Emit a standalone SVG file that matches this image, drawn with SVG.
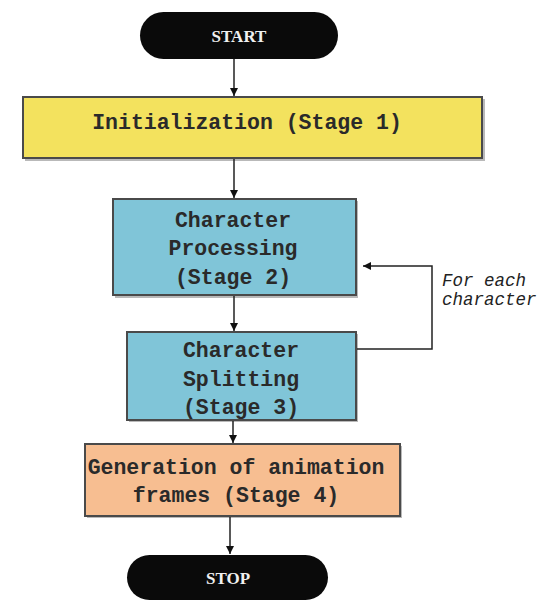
<svg xmlns="http://www.w3.org/2000/svg" width="538" height="603" viewBox="0 0 538 603">
<defs>
<style>
.box{stroke:#4a4a4a;stroke-width:2}
.shadow{fill:#8a8a8a;opacity:0.6}
.bt{font-family:"Liberation Mono","Courier New",monospace;font-weight:bold;font-size:21.5px;fill:#2a2a2a;text-anchor:middle}
.term{fill:#0a0a0a}
.tt{font-family:"Liberation Serif","Times New Roman",serif;font-weight:bold;font-size:17px;fill:#f0f0f0;text-anchor:middle}
.lbl{font-family:"Liberation Mono","Courier New",monospace;font-style:italic;font-size:17.5px;fill:#222}
.con{stroke:#222;stroke-width:1.5;fill:none;marker-end:url(#ah)}
</style>
<marker id="ah" viewBox="0 0 10 10" refX="10" refY="5" markerWidth="8" markerHeight="8" markerUnits="userSpaceOnUse" orient="auto">
<path d="M0,0 L10,5 L0,10 z" fill="#111"/>
</marker>
</defs>
<rect width="538" height="603" fill="#ffffff"/>
<g id="start">
<rect class="term" x="140" y="12" width="198" height="47" rx="23.5"/>
<text class="tt" x="239" y="42">START</text>
</g>
<g id="stage1">
<rect class="shadow" x="25" y="99" width="460" height="62"/>
<rect class="box" x="23" y="97" width="459" height="61" fill="#F3E25E"/>
<text class="bt" x="247" y="129">Initialization (Stage 1)</text>
</g>
<g id="stage2">
<rect class="shadow" x="115" y="201" width="243" height="97"/>
<rect class="box" x="113" y="199" width="243" height="96" fill="#80C5D8"/>
<text class="bt" x="233" y="227">Character</text>
<text class="bt" x="233" y="255">Processing</text>
<text class="bt" x="233" y="284">(Stage 2)</text>
</g>
<g id="stage3">
<rect class="shadow" x="129" y="334" width="229" height="88"/>
<rect class="box" x="127" y="332" width="229" height="88" fill="#80C5D8"/>
<text class="bt" x="241" y="357">Character</text>
<text class="bt" x="241" y="386">Splitting</text>
<text class="bt" x="241" y="414">(Stage 3)</text>
</g>
<g id="stage4">
<rect class="shadow" x="87" y="446" width="315" height="72"/>
<rect class="box" x="85" y="444" width="315" height="72" fill="#F7BE91"/>
<text class="bt" x="236" y="474">Generation of animation</text>
<text class="bt" x="236" y="502">frames (Stage 4)</text>
</g>
<g id="stop">
<rect class="term" x="127" y="555" width="201" height="45" rx="22.5"/>
<text class="tt" x="228" y="584">STOP</text>
</g>
<g id="loop-label">
<text class="lbl" x="442" y="286">For each</text>
<text class="lbl" x="442" y="305">character</text>
</g>
<g id="connectors">
<line class="con" x1="234" y1="59" x2="234" y2="96"/>
<line class="con" x1="234" y1="159" x2="234" y2="198"/>
<line class="con" x1="234" y1="296" x2="234" y2="331"/>
<line class="con" x1="233" y1="421" x2="233" y2="443"/>
<line class="con" x1="230" y1="517" x2="230" y2="554"/>
<polyline class="con" points="357,349 432,349 432,266 363,266"/>
</g>
</svg>
